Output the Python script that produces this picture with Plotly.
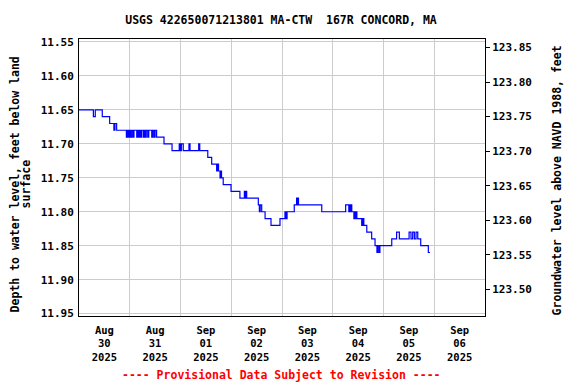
import pandas as pd
import plotly.graph_objects as go

# ---- data (hours since 2025-08-30 00:00, depth in ft) ----
hours = [0, 6.8, 7.7, 11.0, 14.5, 16.5, 17.0, 17.8,
         22.4, 22.9, 23.3, 23.8, 24.3, 24.9, 25.5, 26.0, 27.3, 27.8, 28.3, 28.8,
         29.2, 29.7, 30.5, 31.0, 31.3, 31.8, 32.5, 33.0, 34.4, 34.9, 35.5, 36.0,
         36.7, 40.2, 44.0, 47.4, 47.9, 48.4, 49.3, 52.0, 52.5, 56.6, 57.1,
         60.9, 62.75, 65.1, 65.6, 66.0, 66.7, 67.0, 67.4, 68.2, 71.9, 76.1,
         78.2, 78.7, 79.0, 79.3, 84.8, 85.3, 85.7, 86.4, 88.0, 90.8, 95.05,
         97.4, 97.9, 98.4, 101.8, 102.9, 103.2, 103.5, 103.8, 114.8,
         126.1, 127.6, 127.9, 128.2, 128.6, 129.0, 130.0, 130.3, 130.7, 131.0,
         131.4, 133.7, 134.2, 134.7, 136.1, 138.4, 140.0, 140.9, 141.3, 141.9,
         142.3, 147.9, 150.2, 151.5, 156.1, 157.0, 157.8, 158.6, 159.4, 160.2,
         161.6, 165.2, 166.0]
depth = [11.65, 11.66, 11.65, 11.66, 11.67, 11.68, 11.67, 11.68,
         11.69, 11.68, 11.69, 11.68, 11.69, 11.68, 11.69, 11.68, 11.69, 11.68, 11.69, 11.68,
         11.69, 11.68, 11.69, 11.68, 11.69, 11.68, 11.69, 11.68, 11.69, 11.68, 11.69, 11.68,
         11.69, 11.70, 11.71, 11.70, 11.71, 11.70, 11.71, 11.70, 11.71, 11.70, 11.71,
         11.72, 11.73, 11.74, 11.73, 11.74, 11.75, 11.74, 11.75, 11.76, 11.77, 11.78,
         11.77, 11.78, 11.77, 11.78, 11.79, 11.80, 11.79, 11.80, 11.81, 11.82, 11.81,
         11.80, 11.81, 11.80, 11.79, 11.78, 11.79, 11.78, 11.79, 11.80,
         11.79, 11.80, 11.79, 11.80, 11.79, 11.80, 11.81, 11.80, 11.81, 11.80,
         11.81, 11.82, 11.81, 11.82, 11.83, 11.84, 11.85, 11.86, 11.85, 11.86,
         11.85, 11.84, 11.83, 11.84, 11.83, 11.84, 11.83, 11.84, 11.83, 11.84,
         11.85, 11.86, 11.86]

left_ticks = [11.55, 11.60, 11.65, 11.70, 11.75, 11.80, 11.85, 11.90, 11.95]
right_ticks = [123.50, 123.55, 123.60, 123.65, 123.70, 123.75, 123.80, 123.85]
label_days = ["2025-08-30", "2025-08-31", "2025-09-01", "2025-09-02",
              "2025-09-03", "2025-09-04", "2025-09-05", "2025-09-06"]
label_text = ["Aug<br>30<br>2025", "Aug<br>31<br>2025", "Sep<br>01<br>2025",
              "Sep<br>02<br>2025", "Sep<br>03<br>2025", "Sep<br>04<br>2025",
              "Sep<br>05<br>2025", "Sep<br>06<br>2025"]

start = pd.Timestamp("2025-08-30 00:00")
times = [start + pd.Timedelta(hours=h) for h in hours]
noon = [pd.Timestamp(d) + pd.Timedelta(hours=12) for d in label_days]
midnights = [pd.Timestamp(d) for d in label_days[1:]]

FONT = "DejaVu Sans Mono"
W, H = 576, 384
ML, MR, MT, MB = 79, 91, 38.5, 68.3
PW, PH = W - ML - MR, H - MT - MB


def px_x(px):
    return (px - ML) / PW


def px_y(py):
    return (H - MB - py) / PH


fig = go.Figure()
fig.add_trace(go.Scatter(x=times, y=depth, mode="lines", line_shape="hv",
                         line=dict(color="#0000ff", width=1.2),
                         showlegend=False, hoverinfo="skip"))
fig.add_trace(go.Scatter(x=[None], y=[None], yaxis="y2", showlegend=False,
                         hoverinfo="skip"))

TF = dict(family=FONT, size=11.5, color="black", weight="bold")

fig.update_layout(
    width=W, height=H,
    margin=dict(l=ML, r=MR, t=MT, b=MB, autoexpand=False),
    paper_bgcolor="white", plot_bgcolor="white",
    font=dict(family=FONT, size=11, color="black", weight="bold"),
    title=dict(text="USGS 422650071213801 MA-CTW \u00a0167R CONCORD, MA",
               x=px_x(281), xref="paper", xanchor="center",
               y=1 - 19.5/H, yanchor="middle", font=TF),
    xaxis=dict(
        range=[start, pd.Timestamp("2025-09-07 00:00")],
        tickmode="array", tickvals=noon, ticktext=label_text,
        showgrid=False, ticks="", zeroline=False, ticklabelstandoff=4,
        showline=True, linecolor="black", linewidth=1, mirror=True,
        tickfont=dict(family=FONT, size=10.5, weight="bold"),
        minor=dict(tickmode="array", tickvals=midnights, showgrid=True,
                   gridcolor="#cccccc", gridwidth=1, ticks=""),
    ),
    yaxis=dict(
        range=[11.9535, 11.5456],
        tickmode="array", tickvals=left_ticks,
        ticktext=[f"{v:.2f}" for v in left_ticks],
        showgrid=True, gridcolor="#cccccc", gridwidth=1, zeroline=False,
        showline=True, linecolor="black", linewidth=1, mirror=True,
        ticks="", ticklen=0, ticklabelstandoff=2,
        tickfont=dict(family=FONT, size=11, weight="bold"),
    ),
    yaxis2=dict(
        overlaying="y", side="right",
        range=[123.4614, 123.8623],
        tickmode="array", tickvals=right_ticks,
        ticktext=[f"{v:.2f}" for v in right_ticks],
        showgrid=False, zeroline=False,
        showline=True, linecolor="black", linewidth=1,
        ticks="outside", ticklen=4, tickcolor="black",
        tickfont=dict(family=FONT, size=11, weight="bold"),
    ),
    annotations=[
        dict(text="Depth to water level, feet below land",
             x=px_x(15), y=px_y(184), xref="paper", yref="paper",
             xanchor="center", yanchor="middle", textangle=-90,
             showarrow=False, font=TF),
        dict(text="surface",
             x=px_x(26), y=px_y(184), xref="paper", yref="paper",
             xanchor="center", yanchor="middle", textangle=-90,
             showarrow=False, font=TF),
        dict(text="Groundwater level above NAVD 1988, feet",
             x=px_x(557), y=px_y(180), xref="paper", yref="paper",
             xanchor="center", yanchor="middle", textangle=-90,
             showarrow=False, font=TF),
        dict(text="---- Provisional Data Subject to Revision ----",
             x=px_x(281), xref="paper", xanchor="center",
             y=px_y(375), yref="paper", yanchor="middle", showarrow=False,
             font=dict(family=FONT, size=11.5, color="red", weight="bold")),
    ],
)

fig.write_html("out.html", config={"displayModeBar": False},
               post_script="document.body.style.margin='0';document.body.style.padding='0';")
